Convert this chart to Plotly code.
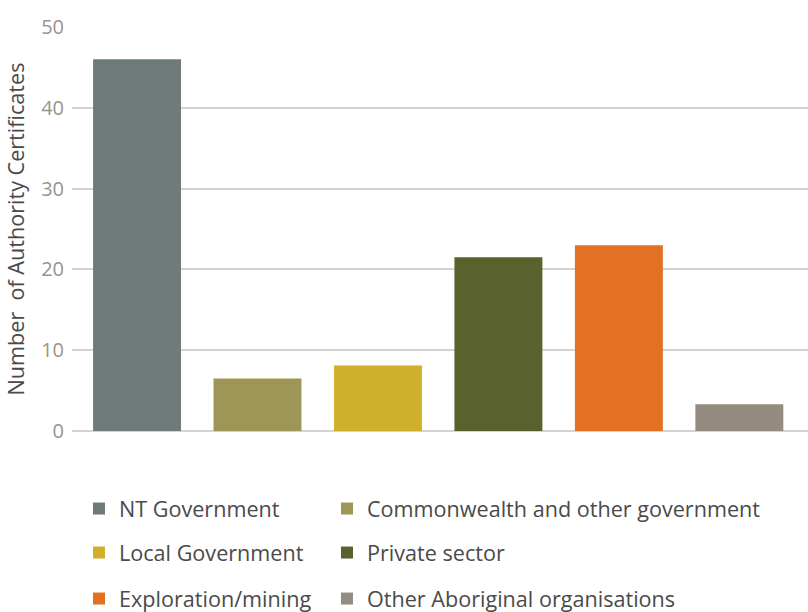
import plotly.graph_objects as go

categories = [
    "NT Government",
    "Commonwealth and other government",
    "Local Government",
    "Private sector",
    "Exploration/mining",
    "Other Aboriginal organisations",
]
values = [46.0, 6.5, 8.1, 21.5, 23.0, 3.3]
colors = ["#6e7b79", "#9e9656", "#d0af2b", "#59622d", "#e37124", "#958b81"]

y_ticks = [0, 10, 20, 30, 40, 50]

W, H = 808, 612
plot_top, plot_bottom = 27, 431

# legend entries laid out in two columns, three rows (pixel positions)
legend_cols = [79, 327]
legend_rows = [509, 553, 599]

fig = go.Figure()
layout_legends = {}
for i, (cat, val, col) in enumerate(zip(categories, values, colors)):
    lg = "legend" if i == 0 else f"legend{i + 1}"
    fig.add_trace(go.Bar(
        x=[cat], y=[val], name=cat,
        marker=dict(color=col, line=dict(width=0)),
        width=0.73, legend=lg,
        hoverinfo="x+y",
    ))
    layout_legends[lg] = dict(
        orientation="h",
        xref="container", yref="container",
        xanchor="left", yanchor="middle",
        x=legend_cols[i % 2] / W,
        y=1 - legend_rows[i // 2] / H,
        font=dict(family="Open Sans", size=21.6, color="#4a4a4a"),
        bgcolor="rgba(0,0,0,0)", borderwidth=0,
        itemclick=False, itemdoubleclick=False,
    )

fig.update_layout(
    width=W, height=H,
    margin=dict(l=72, r=0, t=plot_top, b=H - plot_bottom, autoexpand=False),
    paper_bgcolor="white", plot_bgcolor="white",
    barmode="overlay",
    font=dict(family="Open Sans", color="#4a4a4a"),
    showlegend=True,
    xaxis=dict(
        type="category",
        categoryorder="array", categoryarray=categories,
        range=[-0.54, 5.57],
        showticklabels=False, showgrid=False, zeroline=False,
        showline=False, ticks="",
    ),
    yaxis=dict(
        range=[0, 50],
        tickvals=y_ticks,
        ticktext=[str(t) for t in y_ticks],
        tickfont=dict(family="Open Sans", size=20, color="#9d928a"),
        ticks="", ticklabelstandoff=7,
        showgrid=True, gridcolor="#d8d2cc", gridwidth=1.6,
        zeroline=True, zerolinecolor="#d8d2cc", zerolinewidth=2,
        showline=False,
        title=dict(
            text="Number  of Authority Certificates",
            font=dict(family="Open Sans", size=21.6, color="#4a4a4a"),
            standoff=10,
        ),
    ),
    **layout_legends,
)

fig.write_html("out.html")
